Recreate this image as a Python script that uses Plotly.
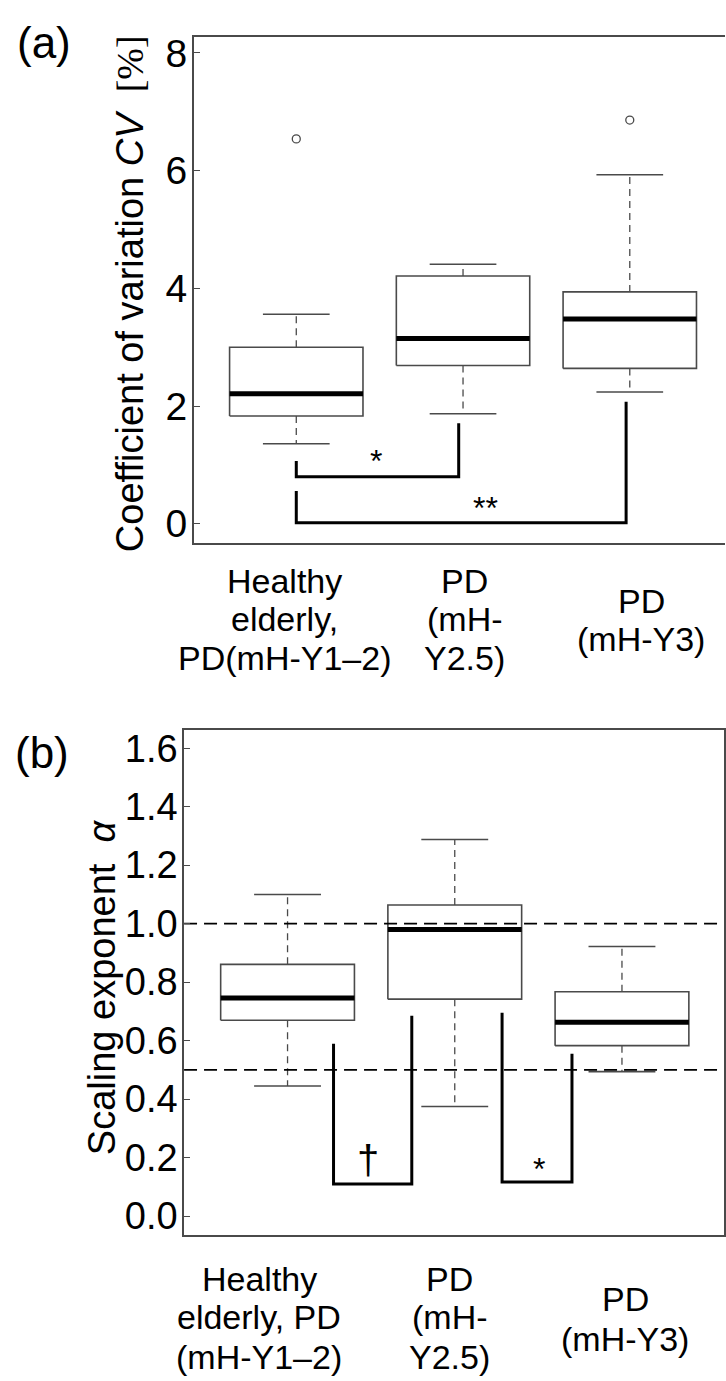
import plotly.graph_objects as go

W, H = 726, 1381
FONT = "Liberation Sans, Arial, sans-serif"

# ---- (a) coefficient of variation, five-number summaries per group ----
cv_lower = [1.36, 1.87, 2.24]
cv_q1 = [1.83, 2.69, 2.64]
cv_median = [2.21, 3.15, 3.48]
cv_q3 = [3.00, 4.21, 3.94]
cv_upper = [3.56, 4.41, 5.93]
cv_outlier_group = [0, 2]
cv_outlier_value = [6.54, 6.86]

cv_labels = [["Healthy", "elderly,", "PD(mH-Y1–2)"],
             ["PD", "(mH-", "Y2.5)"],
             ["PD", "(mH-Y3)"]]
cv_ticks = [0, 2, 4, 6, 8]

# significance brackets for (a)
cv_br_x0 = [0.0, 0.0]
cv_br_x1 = [0.974, 1.978]
cv_br_left_top = [1.065, 0.558]
cv_br_right_top = [1.707, 2.073]
cv_br_base = [0.80, 0.017]
cv_br_text = ["*", "**"]
cv_br_text_x = [0.479, 1.134]
cv_br_text_y = [1.21, 0.40]

# ---- (b) DFA scaling exponent ----
alpha_lower = [0.445, 0.375, 0.494]
alpha_q1 = [0.670, 0.742, 0.583]
alpha_median = [0.746, 0.980, 0.663]
alpha_q3 = [0.861, 1.064, 0.767]
alpha_upper = [1.100, 1.288, 0.922]

alpha_labels = [["Healthy", "elderly, PD", "(mH-Y1–2)"],
                ["PD", "(mH-", "Y2.5)"],
                ["PD", "(mH-Y3)"]]
alpha_ticks = [0.0, 0.2, 0.4, 0.6, 0.8, 1.0, 1.2, 1.4, 1.6]
alpha_reference = [1.0, 0.5]

alpha_br_x0 = [0.275, 1.283]
alpha_br_x1 = [0.743, 1.701]
alpha_br_left_top = [0.589, 0.695]
alpha_br_right_top = [0.685, 0.555]
alpha_br_base = [0.110, 0.117]
alpha_br_text = ["†", "*"]
alpha_br_text_x = [0.480, 1.505]
alpha_br_text_y = [0.192, 0.187]

BOX_HALF = 0.4
CAP_HALF = 0.2
EDGE = "#4a4a4a"

fig = go.Figure()


def add_boxes(xa, ya, lower, q1, med, q3, upper):
    wx, wy = [], []
    cx, cy = [], []
    for i in range(len(med)):
        wx += [i, i, None, i, i, None]
        wy += [q3[i], upper[i], None, q1[i], lower[i], None]
        cx += [i - CAP_HALF, i + CAP_HALF, None, i - CAP_HALF, i + CAP_HALF, None]
        cy += [upper[i], upper[i], None, lower[i], lower[i], None]
    fig.add_trace(go.Scatter(x=wx, y=wy, mode="lines", xaxis=xa, yaxis=ya,
                             line=dict(color=EDGE, width=1.3, dash="7px,5px"),
                             hoverinfo="skip", showlegend=False))
    fig.add_trace(go.Scatter(x=cx, y=cy, mode="lines", xaxis=xa, yaxis=ya,
                             line=dict(color=EDGE, width=1.6),
                             hoverinfo="skip", showlegend=False))
    for i in range(len(med)):
        l, r = i - BOX_HALF, i + BOX_HALF
        fig.add_trace(go.Scatter(x=[l, r, r, l, l], y=[q1[i], q1[i], q3[i], q3[i], q1[i]],
                                 mode="lines", fill="toself", fillcolor="white",
                                 xaxis=xa, yaxis=ya,
                                 line=dict(color=EDGE, width=1.6),
                                 hoverinfo="skip", showlegend=False))
    mx, my = [], []
    for i in range(len(med)):
        mx += [i - BOX_HALF, i + BOX_HALF, None]
        my += [med[i], med[i], None]
    fig.add_trace(go.Scatter(x=mx, y=my, mode="lines", xaxis=xa, yaxis=ya,
                             line=dict(color="black", width=5),
                             hoverinfo="skip", showlegend=False))


def add_brackets(xa, ya, x0, x1, ltop, rtop, base, text, tx, ty, tsize, tshift):
    bx, by = [], []
    for i in range(len(x0)):
        bx += [x0[i], x0[i], x1[i], x1[i], None]
        by += [ltop[i], base[i], base[i], rtop[i], None]
    fig.add_trace(go.Scatter(x=bx, y=by, mode="lines", xaxis=xa, yaxis=ya,
                             line=dict(color="black", width=3),
                             hoverinfo="skip", showlegend=False))
    for i in range(len(text)):
        fig.add_annotation(x=tx[i], y=ty[i], xref=xa, yref=ya, text=text[i],
                           showarrow=False, xanchor="center", yanchor="middle",
                           yshift=tshift[i],
                           font=dict(family=FONT, size=tsize[i], color="black"))


# panel (a)
add_boxes("x", "y", cv_lower, cv_q1, cv_median, cv_q3, cv_upper)
fig.add_trace(go.Scatter(x=cv_outlier_group, y=cv_outlier_value, mode="markers",
                         xaxis="x", yaxis="y",
                         marker=dict(symbol="circle-open", size=8, color=EDGE,
                                     line=dict(width=1.3, color=EDGE)),
                         hoverinfo="skip", showlegend=False))
add_brackets("x", "y", cv_br_x0, cv_br_x1, cv_br_left_top, cv_br_right_top, cv_br_base,
             cv_br_text, cv_br_text_x, cv_br_text_y, [32, 32], [-8, -8])

# panel (b)
add_boxes("x2", "y2", alpha_lower, alpha_q1, alpha_median, alpha_q3, alpha_upper)
for ref in alpha_reference:
    fig.add_trace(go.Scatter(x=[-0.619, 2.612], y=[ref, ref], mode="lines",
                             xaxis="x2", yaxis="y2",
                             line=dict(color="black", width=1.8, dash="13px,7px"),
                             hoverinfo="skip", showlegend=False))
add_brackets("x2", "y2", alpha_br_x0, alpha_br_x1, alpha_br_left_top, alpha_br_right_top,
             alpha_br_base, alpha_br_text, alpha_br_text_x, alpha_br_text_y, [40, 32], [0, -8])


def px_x(p):
    return p / W


def px_y(p):
    return 1 - p / H


axis_common = dict(showgrid=False, zeroline=False, linecolor=EDGE, linewidth=1.6,
                   showline=True)

fig.update_layout(
    width=W, height=H,
    margin=dict(l=0, r=0, t=0, b=0),
    paper_bgcolor="white", plot_bgcolor="white",
    showlegend=False,
    xaxis=dict(domain=[px_x(194), 1.0], range=[-0.615, 2.571], anchor="y",
               mirror=True, showticklabels=False, ticks="", **axis_common),
    yaxis=dict(domain=[px_y(540.7), px_y(31.7)], range=[-0.32, 8.28], anchor="x",
               mirror=False, ticks="inside", ticklen=6, tickwidth=1.3, tickcolor=EDGE,
               tickvals=cv_ticks, ticktext=[str(t) for t in cv_ticks],
               ticklabelstandoff=-3,
               tickfont=dict(family=FONT, size=39, color="black"), **axis_common),
    xaxis2=dict(domain=[px_x(184.3), px_x(725.3)], range=[-0.619, 2.612], anchor="y2",
                mirror=True, showticklabels=False, ticks="", **axis_common),
    yaxis2=dict(domain=[px_y(1237.3), px_y(729)], range=[-0.065, 1.663], anchor="x2",
                mirror=True, ticks="inside", ticklen=6, tickwidth=1.3, tickcolor=EDGE,
                tickvals=alpha_ticks, ticktext=[f"{t:.1f}" for t in alpha_ticks],
                ticklabelstandoff=-3,
                tickfont=dict(family=FONT, size=38, color="black"), **axis_common),
)

# panel letters
fig.add_annotation(x=px_x(44), y=px_y(38), xref="paper", yref="paper", text="(a)",
                   showarrow=False, xanchor="center", yanchor="middle",
                   font=dict(family=FONT, size=44, color="black"))
fig.add_annotation(x=px_x(42), y=px_y(752), xref="paper", yref="paper", text="(b)",
                   showarrow=False, xanchor="center", yanchor="middle",
                   font=dict(family=FONT, size=44, color="black"))

# y-axis titles
fig.add_annotation(x=px_x(131), y=px_y(290), xref="paper", yref="paper",
                   text="Coefficient of variation <i>CV</i>  "
                        "<span style='font-family:Liberation Serif, Times New Roman, serif'>[%]</span>",
                   textangle=-90, showarrow=False, xanchor="center", yanchor="middle",
                   font=dict(family=FONT, size=38, color="black"))
fig.add_annotation(x=px_x(102), y=px_y(988), xref="paper", yref="paper",
                   text="Scaling exponent  <i>α</i>",
                   textangle=-90, showarrow=False, xanchor="center", yanchor="middle",
                   font=dict(family=FONT, size=38, color="black"))

# group labels under each panel
cv_label_x = [-0.07, 1.01, 2.07]
cv_line_y = [[579, 618, 657], [579, 618, 657], [599, 638]]
for g, lines in enumerate(cv_labels):
    for k, line in enumerate(lines):
        fig.add_annotation(x=cv_label_x[g], y=px_y(cv_line_y[g][k]), xref="x", yref="paper",
                           text=line, showarrow=False, xanchor="center", yanchor="middle",
                           font=dict(family=FONT, size=34, color="black"))

alpha_label_x = [-0.17, 0.97, 2.02]
alpha_line_y = [[1281, 1320, 1360], [1281, 1320, 1360], [1302, 1342]]
for g, lines in enumerate(alpha_labels):
    for k, line in enumerate(lines):
        fig.add_annotation(x=alpha_label_x[g], y=px_y(alpha_line_y[g][k]), xref="x2", yref="paper",
                           text=line, showarrow=False, xanchor="center", yanchor="middle",
                           font=dict(family=FONT, size=34, color="black"))

fig.write_html("out.html")
